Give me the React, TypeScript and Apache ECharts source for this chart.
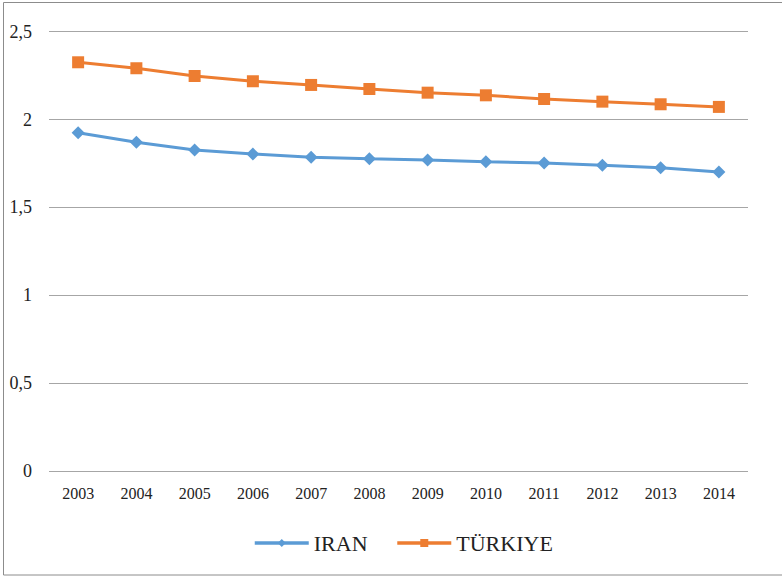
import React, { useEffect, useRef } from "react";
import * as echarts from "echarts";

const years = ["2003", "2004", "2005", "2006", "2007", "2008", "2009", "2010", "2011", "2012", "2013", "2014"];
const iran = [1.925, 1.871, 1.827, 1.804, 1.785, 1.777, 1.770, 1.760, 1.753, 1.740, 1.726, 1.702];
const turkiye = [2.326, 2.292, 2.248, 2.218, 2.197, 2.174, 2.153, 2.138, 2.117, 2.102, 2.087, 2.072];
const seriesNames = ["IRAN", "TÜRKIYE"];

const FONT = "Liberation Serif";

export default function App() {
  const ref = useRef<HTMLDivElement>(null);
  useEffect(() => {
    document.body.style.margin = "0";
    const chart = echarts.init(ref.current!, null, { renderer: "svg" });
    chart.setOption({
      animation: false,
      backgroundColor: "#ffffff",
      textStyle: { fontFamily: FONT },
      grid: { left: 49, right: 34, top: 31.7, bottom: 106 },
      graphic: [
        {
          type: "rect",
          shape: { x: 3.5, y: 2.5, width: 800, height: 572.5 },
          style: { fill: "none", stroke: "#8c8c8c", lineWidth: 1 },
          silent: true,
        },
      ],
      legend: {
        left: 248,
        top: 527,
        itemWidth: 54,
        itemHeight: 10,
        itemGap: 28,
        lineStyle: { width: 3.5 },
        textStyle: { fontFamily: FONT, fontSize: 22, color: "#222" },
        data: seriesNames,
      },
      xAxis: {
        type: "category",
        data: years,
        boundaryGap: true,
        axisLine: { show: false },
        axisTick: { show: false },
        axisLabel: { fontFamily: FONT, fontSize: 16, color: "#222", margin: 14 },
      },
      yAxis: {
        type: "value",
        min: 0,
        max: 2.5,
        interval: 0.5,
        axisLine: { show: false },
        axisTick: { show: false },
        splitLine: { lineStyle: { color: "#a6a6a6", width: 1.2 } },
        axisLabel: {
          fontFamily: FONT,
          fontSize: 18,
          color: "#222",
          margin: 17,
          formatter: (v: number) => String(v).replace(".", ","),
        },
      },
      series: [
        {
          name: seriesNames[0],
          type: "line",
          data: iran,
          symbol: "diamond",
          symbolSize: 13,
          lineStyle: { color: "#5B9BD5", width: 3 },
          itemStyle: { color: "#5B9BD5" },
        },
        {
          name: seriesNames[1],
          type: "line",
          data: turkiye,
          symbol: "rect",
          symbolSize: 12,
          lineStyle: { color: "#ED7D31", width: 3 },
          itemStyle: { color: "#ED7D31" },
        },
      ],
    });
    return () => chart.dispose();
  }, []);
  return <div ref={ref} style={{ width: 782, height: 577 }} />;
}
